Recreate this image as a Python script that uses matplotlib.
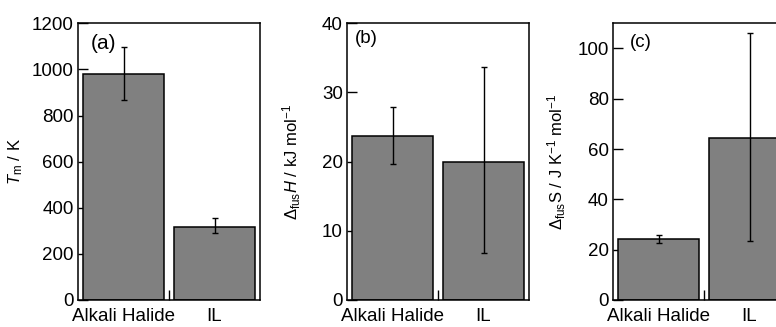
import matplotlib
matplotlib.use("Agg")
import matplotlib.pyplot as plt
import numpy as np

plt.rcParams['font.family'] = ['Liberation Sans', 'DejaVu Sans']
plt.rcParams['mathtext.fontset'] = 'custom'
plt.rcParams['mathtext.rm'] = 'Liberation Sans'
plt.rcParams['mathtext.it'] = 'Liberation Sans:italic'

categories = ["Alkali Halide", "IL"]

# melting point / K
tm = [978, 316]
tm_lo = [112, 26]
tm_hi = [121, 40]

# enthalpy of fusion / kJ mol-1
dh = [23.7, 20.0]
dh_lo = [4.0, 13.2]
dh_hi = [4.2, 13.7]

# entropy of fusion / J K-1 mol-1
ds = [24.2, 64.4]
ds_lo = [1.6, 40.8]
ds_hi = [1.8, 41.8]

panels = [
    ("(a)", tm, tm_lo, tm_hi, 1200, np.arange(0, 1201, 200), r"$T_{\rm m}$ / K"),
    ("(b)", dh, dh_lo, dh_hi, 40, np.arange(0, 41, 10), r"$\Delta_{\rm fus}H$ / kJ mol$^{-1}$"),
    ("(c)", ds, ds_lo, ds_hi, 110, np.arange(0, 101, 20), r"$\Delta_{\rm fus}$S / J K$^{-1}$ mol$^{-1}$"),
]

fig = plt.figure(figsize=(7.76, 3.27), dpi=100)
lefts = [78 / 776, 347 / 776, 613 / 776]
label_x = [-0.29, -0.24, -0.245]
tag_pos = [(0.072, 0.96, 15), (0.045, 0.975, 13.5), (0.095, 0.96, 13.5)]

for i, (tag, vals, lo, hi, ymax, yt, ylab) in enumerate(panels):
    ax = fig.add_axes([lefts[i], 27 / 327, 182 / 776, 276.7 / 327])
    x = np.arange(len(categories))
    ax.bar(x, vals, width=0.88, color='#808080', edgecolor='black', linewidth=1.1, zorder=1)
    ax.errorbar(x, vals, yerr=[lo, hi], fmt='none', ecolor='black', elinewidth=1.0,
                capsize=2.5, capthick=1.0, zorder=3)
    ax.set_axisbelow(True)
    ax.set_xlim(-0.5, 1.5)
    ax.set_ylim(0, ymax)
    ax.set_yticks(yt)
    ax.set_xticks(x)
    ax.set_xticklabels(categories)
    ax.set_xticks([0.5], minor=True)
    ax.tick_params(axis='x', which='major', length=0, labelsize=13.5, pad=6)
    ax.tick_params(axis='x', which='minor', direction='in', length=7, width=1.0)
    ax.tick_params(axis='y', direction='in', length=7.5, width=1.0, labelsize=13.5, pad=3)
    for sp in ax.spines.values():
        sp.set_linewidth(1.1)
    ax.set_ylabel(ylab, fontsize=12)
    ax.yaxis.set_label_coords(label_x[i], 0.5)
    tx, ty, tfs = tag_pos[i]
    ax.text(tx, ty, tag, transform=ax.transAxes, fontsize=tfs, va='top', ha='left')

fig.savefig("out.png", dpi=100)
